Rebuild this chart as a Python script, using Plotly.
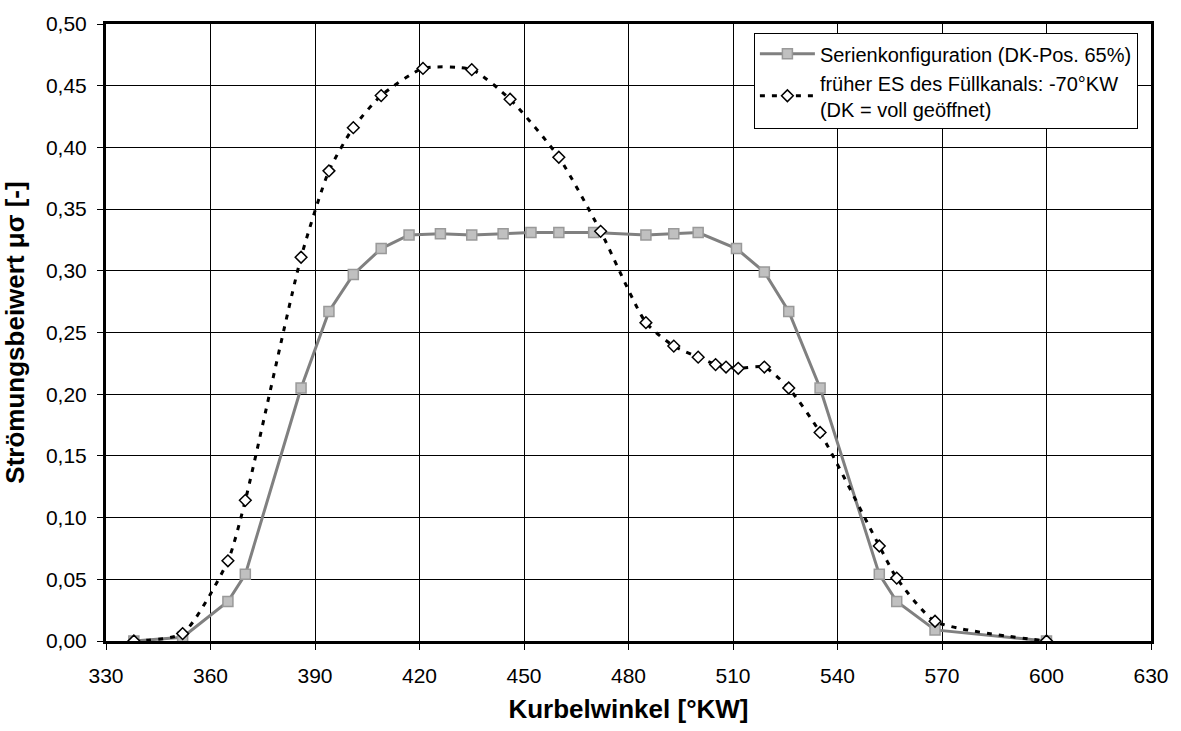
import plotly.graph_objects as go

# Series 1: Serienkonfiguration (DK-Pos. 65%)
x_serie = [338, 352, 365, 370, 386, 394, 401, 409, 417, 426, 435, 444, 452, 460, 470,
           485, 493, 500, 511, 519, 526, 535, 552, 557, 568, 600]
y_serie = [0.000, 0.003, 0.032, 0.054, 0.205, 0.267, 0.297, 0.318, 0.329, 0.330, 0.329,
           0.330, 0.331, 0.331, 0.331, 0.329, 0.330, 0.331, 0.318, 0.299, 0.267, 0.205,
           0.054, 0.032, 0.009, 0.000]

# Series 2: früher ES des Füllkanals: -70°KW (DK = voll geöffnet)
x_frueh = [338, 352, 365, 370, 386, 394, 401, 409, 421, 435, 446, 460, 472, 485, 493,
           500, 505, 508, 511.5, 519, 526, 535, 552, 557, 568, 600]
y_frueh = [0.000, 0.006, 0.065, 0.114, 0.311, 0.381, 0.416, 0.442, 0.464, 0.463, 0.439,
           0.392, 0.332, 0.258, 0.239, 0.230, 0.224, 0.222, 0.221, 0.222, 0.205, 0.169,
           0.077, 0.051, 0.016, 0.000]

x_ticks = list(range(330, 631, 30))
y_ticks = [i * 0.05 for i in range(11)]

FONT = "Liberation Sans, Arial"

fig = go.Figure()
fig.add_trace(go.Scatter(
    x=x_serie, y=y_serie, mode="lines+markers",
    name="Serienkonfiguration (DK-Pos. 65%)",
    line=dict(color="#808080", width=3),
    marker=dict(symbol="square", size=10, color="#C0C0C0",
                line=dict(color="#999999", width=1.5)),
))
fig.add_trace(go.Scatter(
    x=x_frueh, y=y_frueh, mode="lines+markers",
    name="früher ES des Füllkanals: -70°KW<br>(DK = voll geöffnet)",
    line=dict(color="black", width=3, dash="5px,7px", shape="spline", smoothing=0.6),
    marker=dict(symbol="diamond", size=9, color="white",
                line=dict(color="black", width=1.5)),
))

axis_common = dict(
    showline=True, linecolor="black", linewidth=3, mirror=True,
    showgrid=True, gridcolor="#000000", gridwidth=1,
    ticks="outside", ticklen=6, tickwidth=1, tickcolor="black",
    tickfont=dict(family=FONT, size=21, color="black"),
    zeroline=False,
)

fig.update_xaxes(
    range=[330, 630], tickvals=x_ticks, ticklabelstandoff=8,
    title=dict(text="<b>Kurbelwinkel [°KW]</b>",
               font=dict(family=FONT, size=26, color="black"),
               standoff=14),
    **axis_common,
)
fig.update_yaxes(
    range=[0, 0.5], tickvals=y_ticks, tickformat=".2f", ticklabelstandoff=6,
    title=dict(text="<b>Strömungsbeiwert μσ [-]</b>",
               font=dict(family=FONT, size=26, color="black"),
               standoff=14),
    **axis_common,
)

fig.update_layout(
    width=1181, height=731,
    margin=dict(l=106, r=29, t=17, b=90),
    paper_bgcolor="white", plot_bgcolor="white",
    separators=", ",
    showlegend=True,
    legend=dict(
        x=0.62, y=0.985, xanchor="left", yanchor="top",
        bgcolor="white", bordercolor="black", borderwidth=1,
        font=dict(family=FONT, size=20, color="black"),
        itemwidth=55, tracegroupgap=6,
    ),
)

fig.write_html("out.html")
